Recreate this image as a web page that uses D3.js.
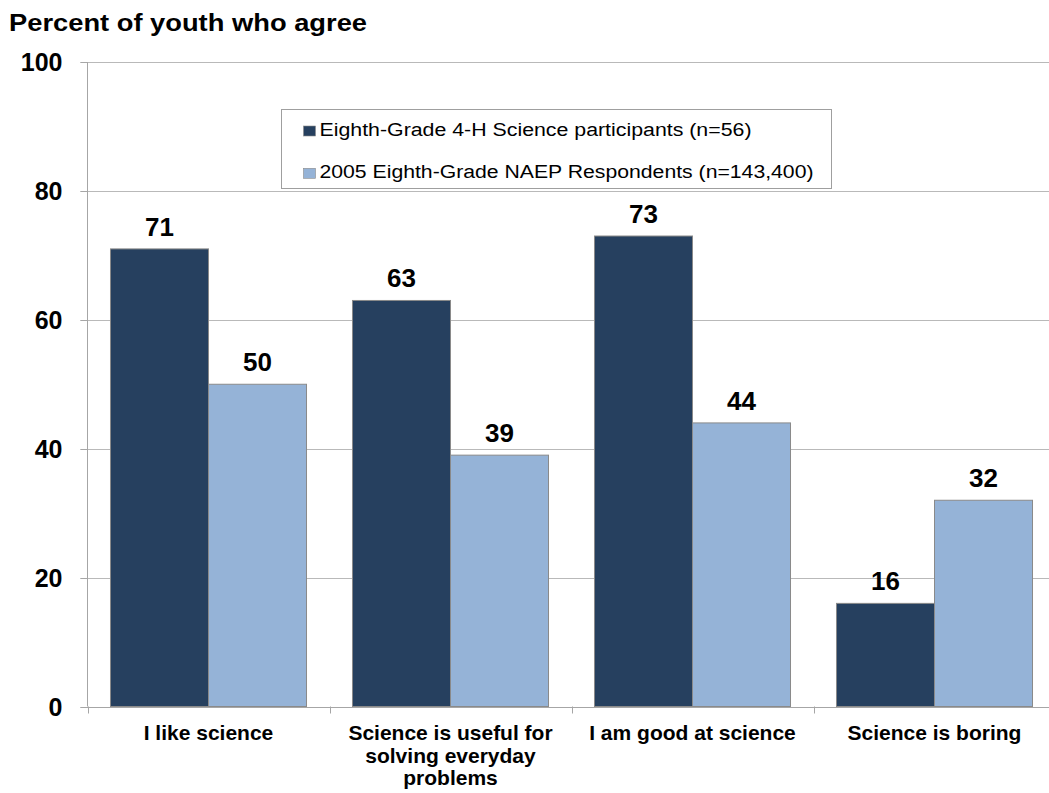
<!DOCTYPE html>
<html>
<head>
<meta charset="utf-8">
<script src="https://cdn.jsdelivr.net/npm/d3@7"></script>
<style>
  html, body { margin: 0; padding: 0; background: #fff; }
  svg { display: block; font-family: "Liberation Sans", Arial, sans-serif; }
</style>
</head>
<body>
<svg id="chart" width="1049" height="793"></svg>
<script>
// Survey categories (line breaks mark wrapped axis labels)
const categories = [
  "I like science",
  "Science is useful for\nsolving everyday\nproblems",
  "I am good at science",
  "Science is boring"
];
const seriesNames = [
  "Eighth-Grade 4-H Science participants (n=56)",
  "2005 Eighth-Grade NAEP Respondents (n=143,400)"
];
const participants4H = [71, 63, 73, 16];
const naepRespondents = [50, 39, 44, 32];
const yTicks = [0, 20, 40, 60, 80, 100];
const titleText = "Percent of youth who agree";

const colors = ["#26405f", "#95b3d7"];
const series = [participants4H, naepRespondents];

const svg = d3.select("#chart");

const plot = { left: 87.5, right: 1055.5, top: 62, bottom: 706.5 };

const x = d3.scaleBand()
  .domain(categories)
  .range([plot.left, plot.right])
  .paddingInner(0.19)
  .paddingOuter(0.095);

const xInner = d3.scaleBand()
  .domain(d3.range(series.length))
  .range([0, x.bandwidth()]);

const y = d3.scaleLinear().domain([0, 100]).range([plot.bottom, plot.top]);

// Horizontal gridlines
svg.append("g")
  .selectAll("line")
  .data(yTicks.filter(d => d > 0))
  .join("line")
  .attr("x1", plot.left - 7)
  .attr("x2", plot.right)
  .attr("y1", d => Math.round(y(d)) + 0.5)
  .attr("y2", d => Math.round(y(d)) + 0.5)
  .attr("stroke", "#b9b9b9")
  .attr("stroke-width", 1);

// Bars
categories.forEach((cat, ci) => {
  const g = svg.append("g").attr("transform", `translate(${x(cat)},0)`);
  series.forEach((vals, si) => {
    g.append("rect")
      .attr("x", xInner(si))
      .attr("y", y(vals[ci]))
      .attr("width", xInner.bandwidth())
      .attr("height", y(0) - y(vals[ci]))
      .attr("fill", colors[si])
      .attr("stroke", "#8a8a8a")
      .attr("stroke-width", 1);
    g.append("text")
      .attr("x", xInner(si) + xInner.bandwidth() / 2)
      .attr("y", y(vals[ci]) - 13)
      .attr("text-anchor", "middle")
      .attr("font-size", 26)
      .attr("font-weight", "bold")
      .attr("fill", "#000")
      .text(vals[ci]);
  });
});

// Y axis line and ticks
const yAxis = svg.append("g");
yAxis.append("line")
  .attr("x1", plot.left).attr("x2", plot.left)
  .attr("y1", plot.top).attr("y2", plot.bottom)
  .attr("stroke", "#a6a6a6");
yAxis.selectAll("line.tick")
  .data(yTicks)
  .join("line")
  .attr("class", "tick")
  .attr("x1", plot.left - 7).attr("x2", plot.left)
  .attr("y1", d => Math.round(y(d)) + 0.5)
  .attr("y2", d => Math.round(y(d)) + 0.5)
  .attr("stroke", "#a6a6a6");
yAxis.selectAll("text")
  .data(yTicks)
  .join("text")
  .attr("x", 62.5)
  .attr("y", d => y(d))
  .attr("dy", "0.36em")
  .attr("text-anchor", "end")
  .attr("font-size", 25)
  .attr("font-weight", "bold")
  .attr("fill", "#000")
  .text(d => d);

// X axis baseline and category boundary ticks
const xAxis = svg.append("g");
xAxis.append("line")
  .attr("x1", plot.left - 7).attr("x2", plot.right)
  .attr("y1", Math.round(plot.bottom) + 0.5).attr("y2", Math.round(plot.bottom) + 0.5)
  .attr("stroke", "#a6a6a6");
const step = x.step();
xAxis.selectAll("line.tick")
  .data(d3.range(categories.length + 1))
  .join("line")
  .attr("class", "tick")
  .attr("x1", i => Math.round(plot.left + i * step) + 0.5)
  .attr("x2", i => Math.round(plot.left + i * step) + 0.5)
  .attr("y1", plot.bottom)
  .attr("y2", plot.bottom + 7)
  .attr("stroke", "#a6a6a6");

// Category labels
categories.forEach(cat => {
  const t = svg.append("text")
    .attr("text-anchor", "middle")
    .attr("font-size", 21)
    .attr("font-weight", "bold")
    .attr("fill", "#000");
  cat.split("\n").forEach((line, li) => {
    t.append("tspan")
      .attr("x", x(cat) + x.bandwidth() / 2)
      .attr("y", 740 + li * 22.6)
      .text(line);
  });
});

// Legend
const legend = svg.append("g");
legend.append("rect")
  .attr("x", 281.5).attr("y", 109.5)
  .attr("width", 550).attr("height", 79)
  .attr("fill", "#fff")
  .attr("stroke", "#9f9f9f");
const legendRows = [136, 178.3];
const legendWidths = [432, 494];
seriesNames.forEach((name, i) => {
  legend.append("rect")
    .attr("x", 303.5).attr("y", legendRows[i] - 10)
    .attr("width", 12).attr("height", 10)
    .attr("fill", colors[i])
    .attr("stroke", "#8a8a8a")
    .attr("stroke-width", 0.6);
  legend.append("text")
    .attr("x", 319.5).attr("y", legendRows[i])
    .attr("font-size", 18)
    .attr("textLength", legendWidths[i])
    .attr("lengthAdjust", "spacingAndGlyphs")
    .attr("fill", "#000")
    .text(name);
});

// Title
svg.append("text")
  .attr("x", 9).attr("y", 31)
  .attr("font-size", 23)
  .attr("font-weight", "bold")
  .attr("textLength", 358)
  .attr("lengthAdjust", "spacingAndGlyphs")
  .attr("fill", "#000")
  .text(titleText);
</script>
</body>
</html>
